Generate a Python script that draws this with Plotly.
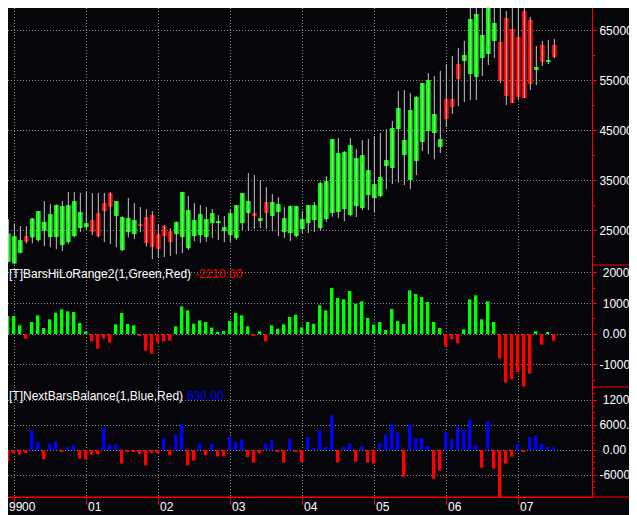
import pandas as pd
import plotly.graph_objects as go
from plotly.subplots import make_subplots

# ---------------- data ----------------
months = [p.strftime("%Y-%m") for p in pd.period_range("1999-11", periods=93, freq="M")]

open_ = [19380, 18850, 18510, 20640, 23970, 23710, 23180, 25040, 23770, 23770,
         22180, 22780, 23970, 25570, 25770, 27170, 28570, 30570, 32570, 27970,
         21180, 24770, 24370, 26370, 27770, 28170, 24370, 25970, 24970, 24370,
         23770, 21580, 23970, 24170, 23770, 26570, 26570, 24970, 24170, 23580,
         26570, 28570, 28570, 26970, 30770, 27970, 28770, 24770, 24570, 23970,
         25370, 26570, 27170, 25570, 27370, 28570, 28770, 29370, 28170, 29970,
         29570, 32170, 31570, 31970, 37960, 37560, 45350, 40160, 35160, 38960,
         42760, 44950, 44550, 41760, 51350, 51350, 58340, 58940, 56340, 55740,
         59540, 60340, 62940, 62740, 67530, 65330, 63730, 68930, 67130, 57140,
         62140, 58940, 62140]
high = [27400, 27370, 26510, 25970, 25970, 27600, 29000, 30970, 30370, 30300,
        30970, 32770, 32770, 32570, 32770, 32570, 32570, 32570, 32770, 30970,
        27900, 31570, 30570, 29770, 29370, 28970, 26370, 26170, 25570, 26900,
        32770, 31970, 30570, 30170, 29770, 29370, 28170, 27970, 29370, 30170,
        32570, 36560, 36160, 35160, 33760, 32370, 31770, 29770, 30100, 30000,
        28970, 30200, 30770, 34800, 35960, 43360, 43560, 40960, 43560, 41360,
        43160, 43360, 43950, 44550, 45350, 46950, 52950, 53150, 52550, 51950,
        54540, 56540, 55940, 56940, 58340, 59940, 61540, 62940, 69530, 70130,
        70330, 70730, 70330, 69930, 68930, 69730, 70930, 70930, 67730, 61940,
        62940, 63140, 63340]
low = [19100, 18720, 18300, 20510, 22510, 22510, 22840, 21980, 21780, 21380,
       21040, 22380, 23710, 24770, 25170, 24170, 23710, 22780, 22380, 21780,
       20980, 23710, 23400, 24770, 21900, 19380, 19580, 19780, 19980, 20380,
       20580, 21180, 22980, 22640, 22840, 23580, 23180, 22780, 22780, 23180,
       25170, 25170, 25370, 25570, 25370, 24970, 23970, 23580, 22980, 23770,
       24570, 24570, 24770, 25170, 26840, 27840, 27570, 26970, 27900, 27770,
       29170, 29170, 28770, 31700, 33360, 34360, 34630, 34160, 33360, 36160,
       40960, 40360, 39360, 40560, 45750, 48350, 49950, 50750, 51150, 51150,
       55940, 58140, 59540, 54540, 50150, 50550, 51150, 51550, 53150, 54140,
       57940, 58340, 59540]
close = [27170, 24510, 23970, 23180, 22840, 27500, 28970, 26840, 28370, 30170,
         29970, 30170, 30970, 28770, 26570, 24840, 23970, 28970, 29840, 30970,
         27770, 27570, 27170, 26170, 22580, 21780, 21380, 23970, 22780, 26770,
         32770, 29170, 27170, 28370, 27370, 28570, 26970, 25770, 28570, 30170,
         32570, 30970, 27970, 27570, 28570, 30770, 30370, 27570, 29970, 29970,
         27370, 30170, 30170, 34560, 34960, 43360, 40560, 40760, 42160, 39560,
         40160, 37170, 34360, 35760, 39160, 45550, 49550, 43160, 49150, 51750,
         54540, 55140, 48350, 43360, 47350, 49750, 55340, 60140, 67330, 68330,
         64130, 70730, 66530, 54940, 51950, 50550, 51750, 51550, 54340, 57740,
         58740, 59140, 59740]

hilo_range = [None, 5870, 5870, 2830, -1520, 3910, 6090, 1960, 4780, 6960,
              8040, 7390, 7170, 3590, 870, -2390, -4780, -1520, -2830, 3150,
              6850, 3260, 2830, -430, -5430, -6410, -2830, -2390, -2170, 2500,
              9020, 7720, 3370, 4460, 3910, 2070, 650, 980, 4240, 6850,
              6090, 2500, -330, 870, -2390, 2830, 1740, 3150, 5540, 6300,
              2170, 3910, 3260, 9350, 7720, 15000, 11740, 11300, 14020, 9890,
              10650, 5220, 3040, 3910, 1300, 8150, 4240, 3260, 14240, 13040,
              12070, 10430, 3910, 1960, -4020, -1740, -3040, 1520, 11300, 12610,
              4780, 10650, 3910, -8040, -15870, -14780, -12390, -17170, -12940, 870,
              -3480, 650, -2210]
bars_balance = [None, -2720, -720, -1120, -720, 4720, 1920, -2240, 1520, 2080,
                -480, 640, 1120, -2080, -2240, -1120, -1040, 5280, 1280, 1360,
                -3280, -480, -480, -1040, -3680, -720, -720, 2880, -1280, 3680,
                6160, -3680, -2560, 1600, -1280, 1440, -1520, -1520, 3120, 1920,
                2560, -1680, -3040, -800, 1440, 2320, -480, -3040, 2720, -320,
                -2880, 3120, 480, 4720, 720, 8320, -3040, 720, 1600, -2800,
                960, -3040, -3280, 1600, 3760, 6400, 4240, -6400, 6160, 2880,
                2880, 960, -6880, -4960, 4240, 2560, 5760, 4800, 7360, 1120,
                -4240, 6880, -4480, -11280, -3280, -1600, 1440, -400, 3120, 3440,
                1440, 720, 630]

year_ticks = ["1999-11", "2000-01", "2001-01", "2002-01", "2003-01",
              "2004-01", "2005-01", "2006-01", "2007-01"]
year_labels = ["99", "00", "01", "02", "03", "04", "05", "06", "07"]

price_ticks = [25000, 35000, 45000, 55000, 65000]
price_labels = ["25000", "35000", "45000", "55000", "65000"]
range_ticks = [-10000, 0, 10000, 20000]
range_labels = ["-10000", "\u00a00.00", "\u00a010000", "\u00a020000"]
bal_ticks = [-6000, 0, 6000, 12000]
bal_labels = ["-6000.0", "\u00a00.00", "6000.0", "\u00a012000"]

hilo_title = "[T]BarsHiLoRange2(1,Green,Red)"
hilo_last = "-2210.00"
bal_title = "[T]NextBarsBalance(1,Blue,Red)"
bal_last = "630.00"

# ---------------- styles / layout geometry ----------------
BG = "#05050a"
GRID = "#8c8c8c"
GREEN = "#00ff00"
RED = "#ff0000"
BLUE = "#0000ff"
WICK = "#c4c4c4"
FONT = "Liberation Sans, Arial, sans-serif"

W, H = 637, 515
OFF = 8                 # page offset of the figure inside the browser window
AX_X = 592              # right axis, window px
AX_BOTTOM = 497         # x axis line, window px
PLOT_W = AX_X - OFF
PLOT_H = AX_BOTTOM - OFF

def px(sx):             # window x -> paper x
    return (sx - OFF) / PLOT_W

def py(sy):             # window y -> paper y
    return (AX_BOTTOM - sy) / PLOT_H

fig = make_subplots(rows=3, cols=1, shared_xaxes=True, vertical_spacing=0)

# wicks
wx, wy = [], []
for m, h, l in zip(months, high, low):
    wx += [m, m, None]
    wy += [l, h, None]
fig.add_trace(go.Scatter(x=wx, y=wy, mode="lines", line=dict(color=WICK, width=1),
                         hoverinfo="skip"), row=1, col=1)

# bodies
body_base = [min(o, c) for o, c in zip(open_, close)]
body_h = [max(abs(c - o), 150) for o, c in zip(open_, close)]
body_col = [GREEN if c >= o else RED for o, c in zip(open_, close)]
fig.add_trace(go.Bar(x=months, y=body_h, base=body_base, width=0.78,
                     marker=dict(color=body_col, line=dict(width=0))), row=1, col=1)

# indicator 1
hc = [GREEN if (v is not None and v >= 0) else RED for v in hilo_range]
fig.add_trace(go.Bar(x=months, y=hilo_range, width=0.56, offset=-0.39,
                     marker=dict(color=hc, line=dict(width=0))), row=2, col=1)

# indicator 2
bc = [BLUE if (v is not None and v >= 0) else RED for v in bars_balance]
fig.add_trace(go.Bar(x=months, y=bars_balance, width=0.56, offset=-0.39,
                     marker=dict(color=bc, line=dict(width=0))), row=3, col=1)

d1 = [py(265), 1.0]
d2 = [py(387), py(265)]
d3 = [0.0, py(387)]

# x range: bar k sits at window x = 2.33 + 6k
x_lo = (OFF - 2.33) / 6.0
x_hi = (AX_X - 2.33) / 6.0

xcommon = dict(type="category", categoryorder="array", categoryarray=months,
               range=[x_lo, x_hi], tickmode="array", tickvals=year_ticks,
               ticktext=year_labels, showgrid=True, gridcolor=GRID, gridwidth=1,
               griddash="1px,2px", zeroline=False, fixedrange=True,
               showticklabels=False, automargin=False)
fig.update_xaxes(**xcommon)
fig.update_xaxes(ticks="", showline=False, row=1, col=1)
fig.update_xaxes(ticks="", showline=False, row=2, col=1)
fig.update_xaxes(ticks="outside", ticklen=7, tickcolor=RED,
                 tickwidth=1, showline=True, linecolor=RED, linewidth=1, row=3, col=1)

ycommon = dict(side="right", showgrid=True, gridcolor=GRID, gridwidth=1,
               griddash="1px,2px", zeroline=False, showline=True, linecolor=RED,
               linewidth=1, ticks="outside", ticklen=4, tickcolor=RED, tickwidth=1,
               tickfont=dict(color="white", size=12, family=FONT),
               ticklabeloverflow="allow", tickmode="array", fixedrange=True,
               automargin=False)
fig.update_yaxes(**ycommon)
fig.update_yaxes(domain=d1, range=[18204, 69527], tickvals=price_ticks, ticktext=price_labels,
                 minor=dict(tickmode="linear", tick0=0, dtick=5000, ticks="outside",
                            ticklen=2, tickcolor=RED, showgrid=False), row=1, col=1)
fig.update_yaxes(domain=d2, range=[-17280, 22500], tickvals=range_ticks, ticktext=range_labels,
                 minor=dict(tickmode="linear", tick0=0, dtick=5000, ticks="outside",
                            ticklen=2, tickcolor=RED, showgrid=False), row=2, col=1)
fig.update_yaxes(domain=d3, range=[-11280, 15120], tickvals=bal_ticks, ticktext=bal_labels,
                 minor=dict(tickmode="linear", tick0=0, dtick=1500, ticks="outside",
                            ticklen=2, tickcolor=RED, showgrid=False), row=3, col=1)

x_edge = px(W)
shapes = [
    dict(type="line", xref="paper", yref="paper", x0=0, x1=x_edge, y0=0, y1=0,
         line=dict(color=RED, width=1)),
    dict(type="line", xref="paper", yref="paper", x0=1, x1=x_edge, y0=d1[0], y1=d1[0],
         line=dict(color=RED, width=1)),
    dict(type="line", xref="paper", yref="paper", x0=1, x1=x_edge, y0=d2[0], y1=d2[0],
         line=dict(color=RED, width=1)),
]

annos = [
    dict(text=hilo_title, x=px(OFF), y=py(274), color="white"),
    dict(text=hilo_last, x=px(194), y=py(274), color=RED),
    dict(text=bal_title, x=px(OFF), y=py(396), color="white"),
    dict(text=bal_last, x=px(186), y=py(396), color=BLUE),
]
annotations = [dict(text=a["text"], x=a["x"], y=a["y"], xref="paper", yref="paper",
                    xanchor="left", yanchor="middle", showarrow=False, borderpad=0,
                    font=dict(color=a["color"], size=12, family=FONT)) for a in annos]

# year labels, just right of their tick (first one sits at the left edge)
for i, (tv, tt) in enumerate(zip(year_ticks, year_labels)):
    if i == 0:
        annotations.append(dict(text=tt, x=px(OFF), y=py(507), xref="paper", yref="paper",
                                xanchor="left", yanchor="middle", showarrow=False,
                                borderpad=0, font=dict(color="white", size=12, family=FONT)))
    else:
        annotations.append(dict(text=tt, x=tv, y=py(507), xref="x3", yref="paper",
                                xanchor="left", yanchor="middle",
                                xshift=7 if i == 1 else 1,
                                showarrow=False, borderpad=0,
                                font=dict(color="white", size=12, family=FONT)))

fig.update_layout(width=W, height=H,
                  margin=dict(l=0, r=W - PLOT_W, t=0, b=H - PLOT_H, autoexpand=False),
                  paper_bgcolor=BG, plot_bgcolor=BG, showlegend=False,
                  barmode="overlay", shapes=shapes, annotations=annotations,
                  font=dict(family=FONT, color="white", size=12))

fig.write_html("out.html")
